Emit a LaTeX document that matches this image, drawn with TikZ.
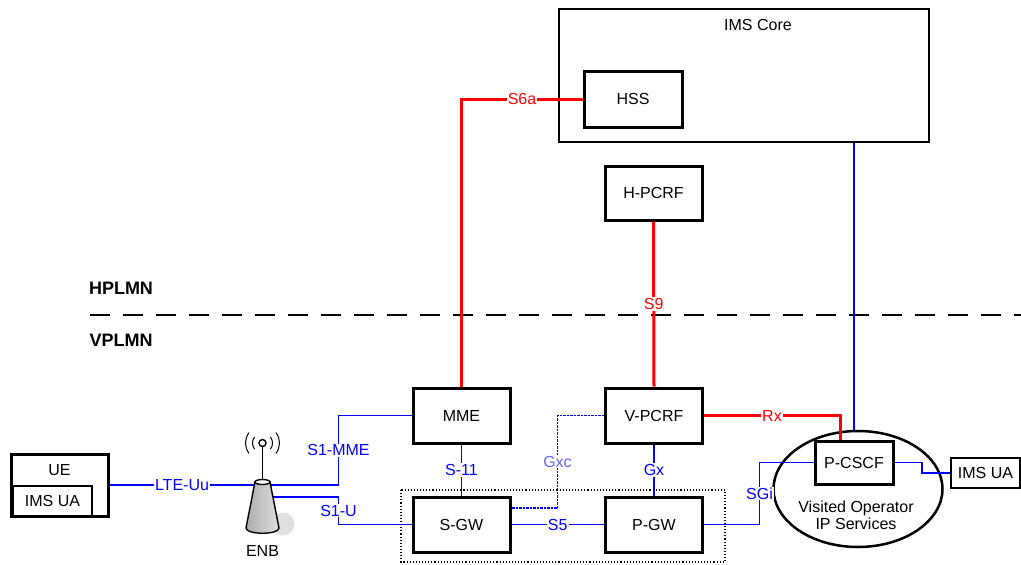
\documentclass[tikz,border=0pt]{standalone}
\usepackage{fontspec}
\setmainfont{Liberation Sans}
\usetikzlibrary{shapes.geometric,calc}
\begin{document}
\begin{tikzpicture}[x=1pt,y=-1pt,
  every node/.style={font=\fontsize{16}{17.5}\selectfont},
  box/.style={draw, line width=3pt, minimum width=97pt, minimum height=55pt, inner sep=0pt, fill=white},
  blu/.style={draw=blue, line width=1.6pt},
  rd/.style={draw=red, line width=3pt},
  lbl/.style={fill=white, inner sep=1pt},
  blbl/.style={lbl, text=blue},
  rlbl/.style={lbl, text=red},
  plmn/.style={font=\fontsize{18}{20}\selectfont\bfseries}]
\useasboundingbox (0,0) rectangle (1021,565);

% IMS core
\node[draw, line width=1.6pt, minimum width=370pt, minimum height=133pt, inner sep=0pt] (ims) at (744,75.5) {};
\node (imslbl) at (758,25) {IMS Core};
\node[box, minimum width=98pt, minimum height=56pt] (hss) at (633,99) {HSS};
\node[box, minimum height=54pt] (hpcrf) at (653.5,193) {H-PCRF};

% PLMN separation
\node[plmn] (hp) at (121,288) {HPLMN};
\node[plmn] (vp) at (121,340) {VPLMN};
\draw[line width=2.8pt, dash pattern=on 20pt off 13pt] (90,315) -- (1021,315);

% dotted gateway box
\draw[dotted, line width=1.1pt] (401,490) rectangle (725,562);

% Visited operator
\node[draw, ellipse, line width=2.5pt, minimum width=169pt, minimum height=116pt] (vop) at (858,489) {};
\node[align=center] (voptext) at (856,515.5) {Visited Operator\\IP Services};
\node[box, minimum width=78pt, minimum height=43pt] (pcscf) at (854,462.5) {P-CSCF};
\node[draw, line width=1.6pt, minimum width=69pt, minimum height=30pt, inner sep=0pt] (imsua2) at (985.5,473) {IMS UA};

% core nodes
\node[box] (mme) at (461.5,415.5) {MME};
\node[box] (vpcrf) at (654,415.5) {V-PCRF};
\node[box] (sgw) at (461.5,524.5) {S-GW};
\node[box] (pgw) at (654,524.5) {P-GW};

% UE
\node[draw, line width=3pt, minimum width=97pt, minimum height=62pt, inner sep=0pt] (ue) at (59.5,485) {};
\node (uelbl) at (59.5,470) {UE};
\node[draw, line width=2pt, minimum width=79pt, minimum height=30pt, inner sep=0pt] (imsua1) at (52.5,501) {IMS UA};

% coordinates
\coordinate (enbl) at (254.5,485);
\coordinate (enbr) at (270.5,485);
\coordinate (enbr2) at (272.5,497);
\coordinate (s1x) at (338.5,0);
\coordinate (gxcb) at (557.5,508);
\coordinate (sgix) at (759.5,0);
\coordinate (uax) at (922,0);

% red connectors
\draw[rd] (mme.north) |- node[rlbl,pos=0.75]{S6a} (hss.west);
\draw[rd] (hpcrf.south) -- node[rlbl]{S9} (vpcrf.north);
\draw[rd] (vpcrf.east) -| node[rlbl,pos=0.25]{Rx} ([xshift=-14pt]pcscf.north);

% blue connectors
\draw[blu] (ims.south -| pcscf.north) -- (vop.north -| pcscf.north);
\draw[blu] (mme.south) -- node[blbl]{S-11} (sgw.north);
\draw[blu] (vpcrf.south) -- node[blbl]{Gx} (pgw.north);
\draw[blu] (sgw.east) -- node[blbl]{S5} (pgw.west);
\draw[blue, line width=1.6pt, dash pattern=on 2.5pt off 1pt] (vpcrf.west) -| node[lbl,text=blue!60,pos=0.75]{Gxc} (gxcb) -- (gxcb -| sgw.east);
\draw[blu] (pgw.east) -| node[blbl,pos=0.75]{SGi} (sgix |- pcscf.west) -- (pcscf.west);
\draw[blu] (pcscf.east) -- (uax |- pcscf.east) -- (uax |- imsua2.west) -- (imsua2.west);
\draw[blu] (ue.east) -- node[blbl]{LTE-Uu} (enbl);
\draw[blu] (enbr) -| node[blbl,pos=0.75]{S1-MME} (s1x |- mme.west) -- (mme.west);
\draw[blu] (enbr2) -| node[blbl,pos=0.75]{S1-U} (s1x |- sgw.west) -- (sgw.west);

% ENB tower
\fill[gray!25] (283,524) circle (11.5pt);
\draw[line width=1.4pt, left color=gray!65, middle color=white, right color=gray!25] (255,482) -- (246,528) .. controls (246,535) and (279,535) .. (279,528) -- (270,482) -- cycle;
\draw[line width=1.4pt, fill=white] (262.5,482) ellipse (7.5pt and 2.5pt);
\draw[line width=1.4pt] (262.5,480) -- (262.5,447);
\draw[line width=1.4pt, fill=white] (262.5,443) circle (3.5pt);
\foreach \r in {10,17} {
  \draw[line width=1pt] ($(262.5,443)+(-38:\r pt)$) arc (-38:38:\r pt);
  \draw[line width=1pt] ($(262.5,443)+(142:\r pt)$) arc (142:218:\r pt);
}
\node (enb) at (262.5,551) {ENB};
\end{tikzpicture}
\end{document}
